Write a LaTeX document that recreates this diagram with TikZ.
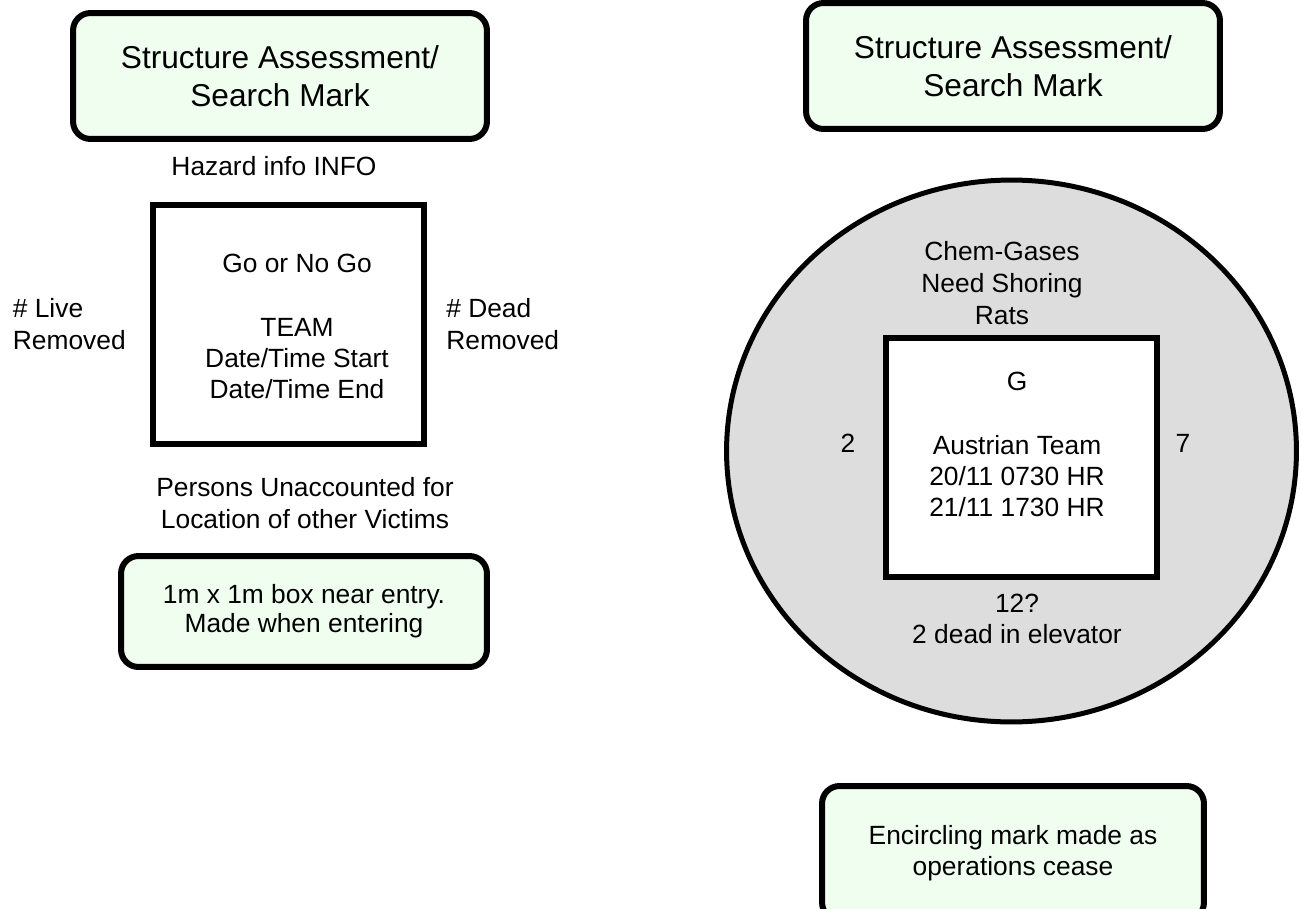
\documentclass[tikz,border=0pt]{standalone}
\usepackage{fontspec}
\setmainfont{Liberation Sans}
\usetikzlibrary{shapes.geometric,positioning}
\definecolor{notegreen}{RGB}{240,254,240}
\definecolor{ringgray}{RGB}{221,221,221}

\tikzset{
	notebox/.style={draw, line width=0.12cm, rounded corners=0.35cm, fill=notegreen, align=center, inner sep=0pt},
	markbox/.style={draw, line width=0.12cm, fill=white, minimum width=5.42cm, minimum height=4.78cm, inner sep=0pt},
	marktext/.style={align=center, inner sep=0pt, font=\fontsize{15}{17.6}\selectfont},
	bigtext/.style={font=\fontsize{18}{21.5}\selectfont},
	looseline/.style={font=\fontsize{15}{18.2}\selectfont},
}

\begin{document}
\begin{tikzpicture}[x=0.02cm, y=-0.02cm]
	\clip (0,0) rectangle (1302,909);
	\useasboundingbox (0,0) rectangle (1302,909);

	% left: the mark itself
	\node [notebox, bigtext, minimum width=8.28cm, minimum height=2.52cm] (ltitle) at (280,76) {Structure Assessment/\\Search Mark};
	\node [marktext, anchor=base] (lhazard) at (274,175) {Hazard info INFO};

	\node [markbox] (lsquare) at (288.5,324.5) {};
	\node [marktext, anchor=base] (lsqtext) at (297,398) {Go or No Go\\[18.5pt]TEAM\\Date/Time Start\\Date/Time End};
	\node [marktext, looseline, align=left, left=0.48cm of lsquare] (llive) {\# Live\\Removed};
	\node [marktext, looseline, align=left, right=0.38cm of lsquare] (ldead) {\# Dead\\Removed};

	\node [marktext, looseline, anchor=base] (lpersons) at (305,528) {Persons Unaccounted for\\Location of other Victims};
	\node [notebox, font=\fontsize{15}{16.5}\selectfont, minimum width=7.32cm, minimum height=2.22cm] (lnote) at (304,611.5) {1m x 1m box near entry.\\Made when entering};

	% right: worked example
	\node [notebox, bigtext, minimum width=8.28cm, minimum height=2.52cm] (rtitle) at (1013,66) {Structure Assessment/\\Search Mark};

	\node [ellipse, draw, line width=0.1cm, fill=ringgray, minimum width=11.4cm, minimum height=10.84cm] (rring) at (1011.5,451) {};
	\node [markbox] (rsquare) at (1021.5,457.5) {};

	\node [marktext, looseline, anchor=base] (rhazard) at (1002,324) {Chem-Gases\\Need Shoring\\Rats};
	\node [marktext, anchor=base] (rsqtext) at (1017,516) {G\\[18.5pt]Austrian Team\\20/11 0730 HR\\21/11 1730 HR};
	\node [marktext, anchor=base] (rlive) at (848,452) {2};
	\node [marktext, anchor=base] (rdead) at (1183,452) {7};
	\node [marktext, anchor=base] (rpersons) at (1017,643) {12?\\2 dead in elevator};

	\node [notebox, font=\fontsize{15}{17.6}\selectfont, minimum width=7.64cm, minimum height=2.68cm] (rnote) at (1013,853) {Encircling mark made as\\operations cease};
\end{tikzpicture}
\end{document}
